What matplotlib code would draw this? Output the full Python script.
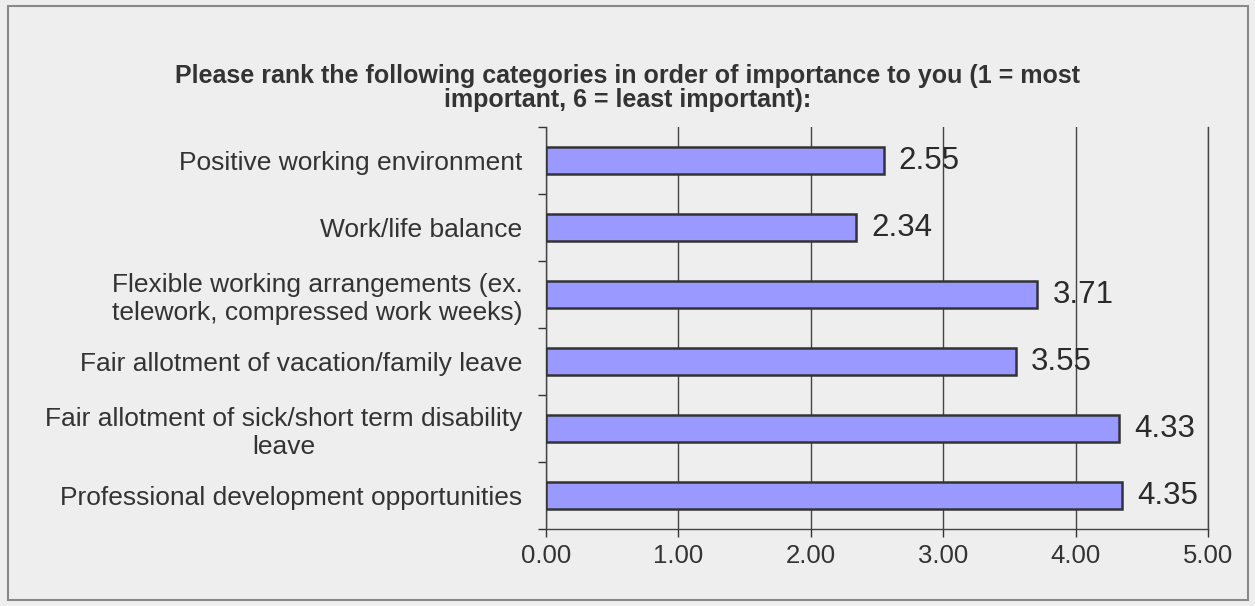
import matplotlib
matplotlib.use("Agg")
import matplotlib.pyplot as plt
from matplotlib.patches import Rectangle
from matplotlib.ticker import FixedLocator

# Survey results: mean rank per category (1 = most important)
categories = [
    "Positive working environment",
    "Work/life balance",
    "Flexible working arrangements (ex.\ntelework, compressed work weeks)",
    "Fair allotment of vacation/family leave",
    "Fair allotment of sick/short term disability\nleave",
    "Professional development opportunities",
]
mean_rank = [2.55, 2.34, 3.71, 3.55, 4.33, 4.35]
x_ticks = [0, 1, 2, 3, 4, 5]

title = ("Please rank the following categories in order of importance to you (1 = most\n"
         "important, 6 = least important):")

plt.rcParams['font.family'] = ['Liberation Sans', 'DejaVu Sans']
text_col = '#333333'
bg = '#eeeeee'

fig = plt.figure(figsize=(12.55, 6.06), dpi=100, facecolor=bg)
ax = fig.add_axes([0.435, 0.127, 0.5275, 0.6634])
ax.set_facecolor(bg)

y = list(range(len(categories)))
ax.barh(y, mean_rank, height=0.4, color='#9999ff', edgecolor='#333333',
        linewidth=1.8, zorder=3)

for yi, v in zip(y, mean_rank):
    ax.annotate("{:.2f}".format(v), (v, yi), xytext=(11, 0), textcoords='offset points',
                va='center', ha='left', fontsize=22.5, color='#2b2b2b', zorder=4)

ax.set_ylim(len(categories) - 0.5, -0.5)
ax.set_yticks(y)
ax.set_yticklabels(categories, fontsize=19, color=text_col, ha='right',
                   multialignment='center')
ax.yaxis.set_minor_locator(FixedLocator([i - 0.5 for i in range(len(categories) + 1)]))
ax.tick_params(axis='y', which='major', length=0, pad=17)
ax.tick_params(axis='y', which='minor', length=6, width=1, color='#333333', direction='out')

ax.set_xlim(0, 5)
ax.set_xticks(x_ticks)
ax.set_xticklabels(["{:.2f}".format(t) for t in x_ticks], fontsize=18.5, color=text_col)
ax.tick_params(axis='x', length=6, width=1, color='#333333', pad=5)
ax.xaxis.grid(True, color='#444444', linewidth=1, zorder=0)

ax.spines['top'].set_visible(False)
for side in ['left', 'bottom', 'right']:
    ax.spines[side].set_color('#444444')
    ax.spines[side].set_linewidth(1)

fig.text(0.5, 1 - 88 / 606, title, ha='center', va='center', fontsize=18,
         fontweight='bold', color=text_col, linespacing=1.05)

# outer frame
fig.patches.append(Rectangle((8 / 1255, 6 / 606), 1240 / 1255, 594 / 606,
                             transform=fig.transFigure, fill=False,
                             edgecolor='#888888', linewidth=1.5))

fig.savefig("out.png", dpi=100, facecolor=bg)
